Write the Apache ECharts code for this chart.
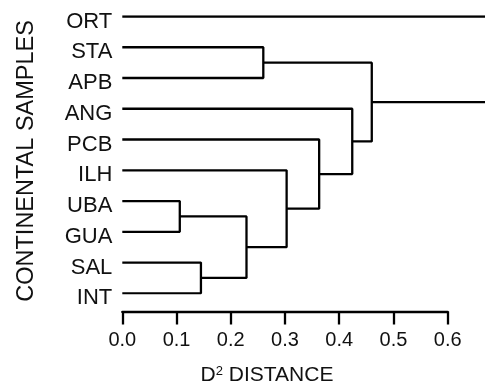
<!DOCTYPE html>
<html>
<head>
<meta charset="utf-8">
<script src="https://cdn.jsdelivr.net/npm/echarts@6/dist/echarts.min.js"></script>
<style>html,body{margin:0;padding:0;background:#fff;}#c{width:485px;height:391px;}</style>
</head>
<body>
<div id="c"></div>
<script>
// Leaves (top to bottom)
const leaves = ['ORT', 'STA', 'APB', 'ANG', 'PCB', 'ILH', 'UBA', 'GUA', 'SAL', 'INT'];
// Merge steps: m1..m9 (left child, right child, D2 distance)
const mergeLeft   = ['UBA', 'SAL', 'm1', 'STA', 'ILH', 'PCB', 'ANG', 'm4', 'ORT'];
const mergeRight  = ['GUA', 'INT', 'm2', 'APB', 'm3',  'm5',  'm6',  'm7', 'm8'];
const mergeHeight = [0.106, 0.145, 0.229, 0.260, 0.303, 0.363, 0.424, 0.460, 0.720];
const xTicks = [0, 0.1, 0.2, 0.3, 0.4, 0.5, 0.6];

const nodes = {};
leaves.forEach((n, i) => { nodes[n] = { y: i, h: 0 }; });
mergeHeight.forEach((h, i) => {
  const a = nodes[mergeLeft[i]], b = nodes[mergeRight[i]];
  nodes['m' + (i + 1)] = { y: (a.y + b.y) / 2, h: h };
});

const W = 485, H = 391;
const plotLeft = 122.3, axisRight = 37.3, plotTop = 16.5, plotBottom = 97.7;
const xMax = xTicks[xTicks.length - 1];
// the dendrogram lines run on to the right edge of the picture, past the 0.6 end of the axis
const xMaxFull = xMax * (W - plotLeft) / (W - plotLeft - axisRight);

const font = 'Liberation Sans, Arial, sans-serif';

const series = mergeHeight.map((h, i) => {
  const a = nodes[mergeLeft[i]], b = nodes[mergeRight[i]];
  return {
    type: 'line',
    xAxisIndex: 0,
    yAxisIndex: 0,
    data: [[a.h, a.y], [h, a.y], [h, b.y], [b.h, b.y]],
    symbol: 'none',
    lineStyle: { color: '#000', width: 2.3 },
    silent: true
  };
});

const chart = echarts.init(document.getElementById('c'), null, { renderer: 'canvas' });
chart.setOption({
  animation: false,
  backgroundColor: '#fff',
  textStyle: { fontFamily: font, color: '#111' },
  grid: [
    { left: plotLeft, right: 0, top: plotTop, bottom: plotBottom },
    { left: plotLeft, right: axisRight, top: plotTop, bottom: plotBottom }
  ],
  xAxis: [
    {
      gridIndex: 0,
      type: 'value',
      min: 0,
      max: xMaxFull,
      show: false
    },
    {
      gridIndex: 1,
      type: 'value',
      min: xTicks[0],
      max: xMax,
      interval: 0.1,
      offset: 19.7,
      axisLine: { show: true, onZero: false, lineStyle: { color: '#000', width: 2.3 } },
      axisTick: { show: true, length: 13, inside: false, lineStyle: { color: '#000', width: 2.3 } },
      splitLine: { show: false },
      axisLabel: {
        margin: 19,
        fontSize: 20,
        color: '#111',
        fontFamily: font,
        formatter: v => v.toFixed(1)
      },
      name: '{n|D}{s|2}{n| DISTANCE}',
      nameLocation: 'middle',
      nameGap: 53,
      nameTextStyle: {
        padding: [0, 36, 0, 0],
        rich: {
          n: { fontSize: 21, color: '#111', fontFamily: font },
          s: { fontSize: 13, color: '#111', verticalAlign: 'top', fontFamily: font, padding: [0, 0, 9, 0] }
        }
      }
    }
  ],
  yAxis: [
    {
      gridIndex: 0,
      type: 'value',
      inverse: true,
      min: 0,
      max: leaves.length - 1,
      interval: 1,
      axisLine: { show: false },
      axisTick: { show: false },
      splitLine: { show: false },
      axisLabel: {
        margin: 10,
        fontSize: 22,
        color: '#111',
        fontFamily: font,
        verticalAlign: 'top',
        lineHeight: 10,
        formatter: v => leaves[v] || ''
      },
      name: 'CONTINENTAL SAMPLES',
      nameLocation: 'middle',
      nameGap: 84,
      nameTextStyle: {
        fontSize: 23.5,
        color: '#111',
        fontFamily: font,
        padding: [0, 12, 0, 0]
      }
    },
    {
      gridIndex: 1,
      type: 'value',
      min: 0,
      max: leaves.length - 1,
      show: false
    }
  ],
  series: series
});
</script>
</body>
</html>
